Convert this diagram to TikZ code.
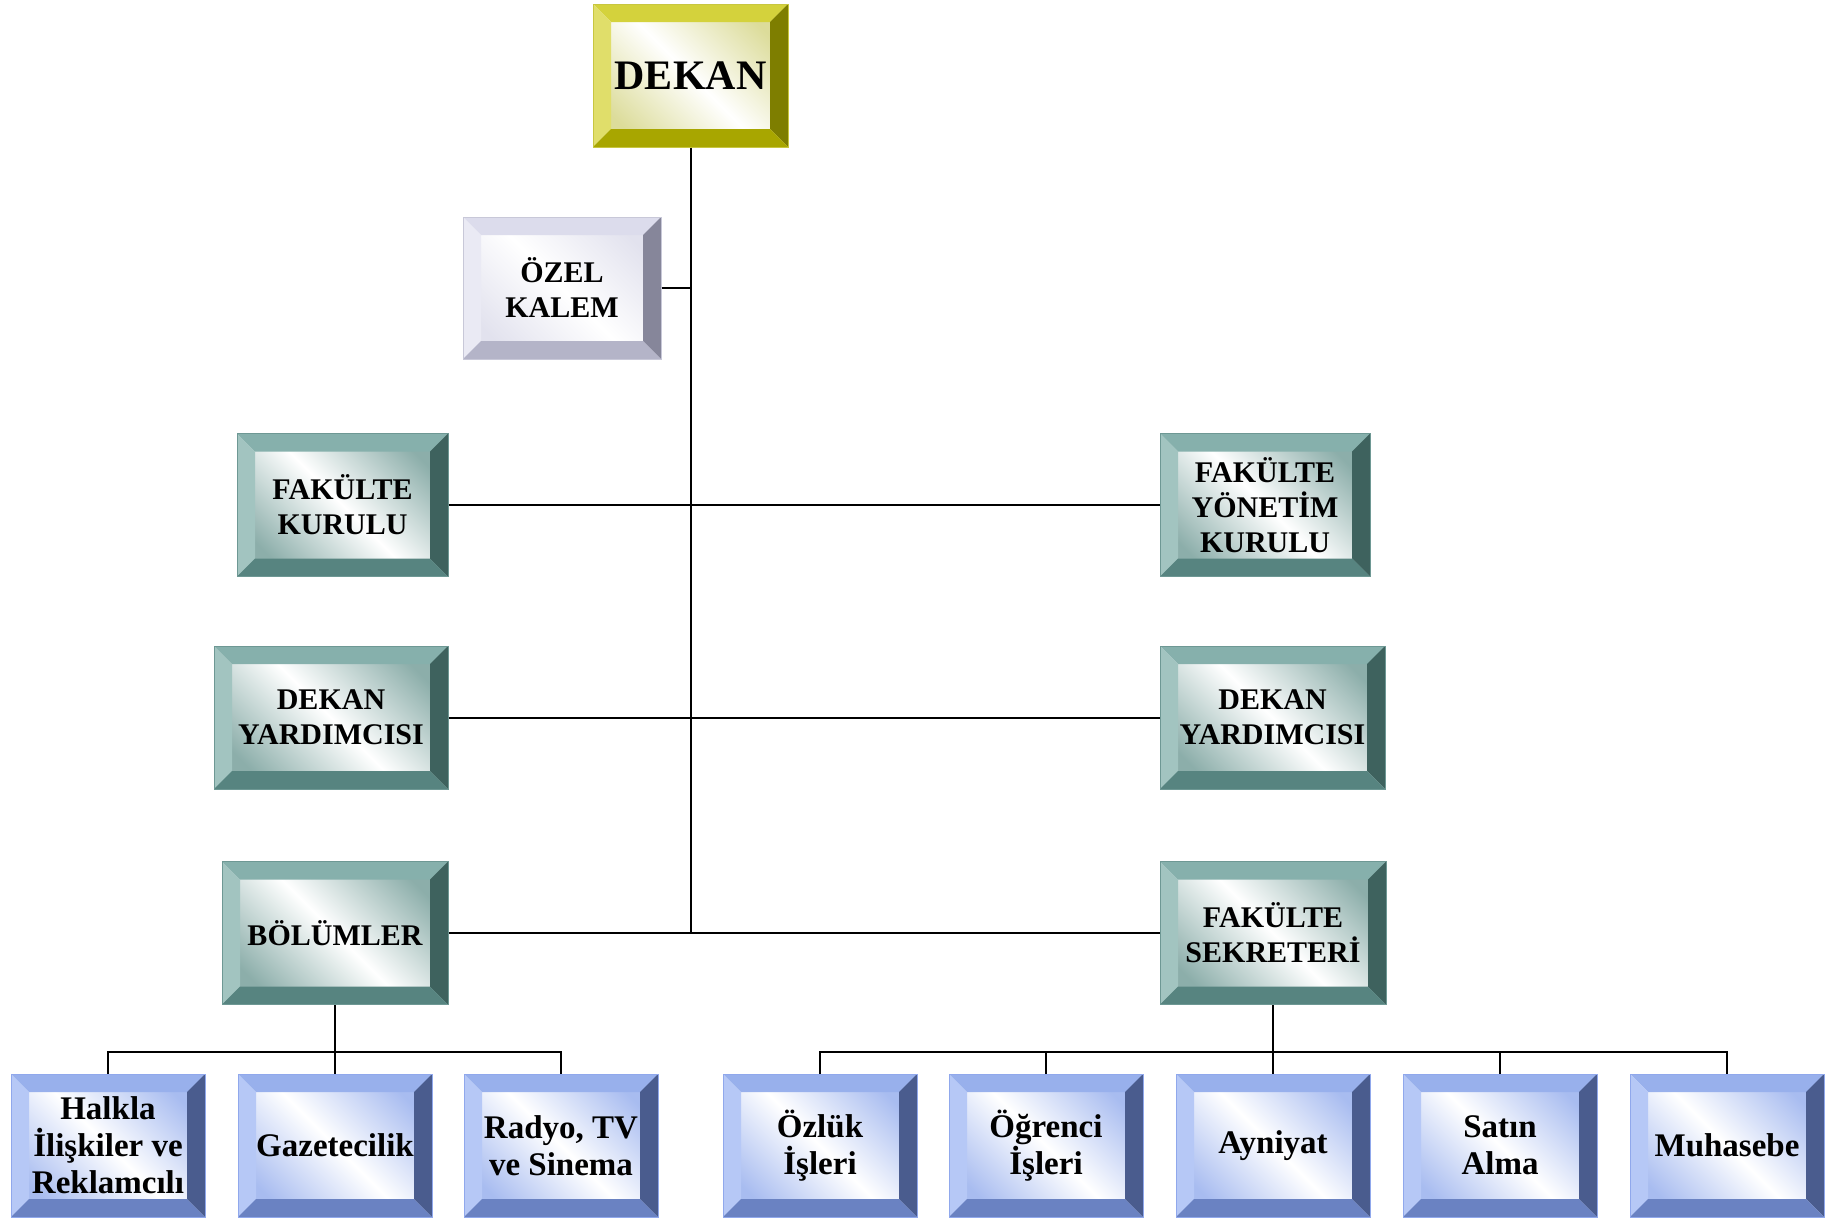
\documentclass[tikz,border=0pt]{standalone}
\usepackage{fontspec}
\setmainfont{Liberation Serif}
\usepackage{tikz}
\usetikzlibrary{calc}

\definecolor{ylwline}{HTML}{C8C640}
\definecolor{ylwshade}{HTML}{DCDC9A}
\definecolor{ylwtop}{HTML}{D4D23C}
\definecolor{ylwleft}{HTML}{E0DE6A}
\definecolor{ylwright}{HTML}{7E7E00}
\definecolor{ylwbottom}{HTML}{A8A600}
\definecolor{lavline}{HTML}{C8C8D8}
\definecolor{lavshade}{HTML}{E2E2EE}
\definecolor{lavtop}{HTML}{DCDCEC}
\definecolor{lavleft}{HTML}{EAEAF4}
\definecolor{lavright}{HTML}{86869A}
\definecolor{lavbottom}{HTML}{B4B4C8}
\definecolor{tealline}{HTML}{6E9894}
\definecolor{tealshade}{HTML}{8CAEAA}
\definecolor{tealtop}{HTML}{86B0AC}
\definecolor{tealleft}{HTML}{A2C4C0}
\definecolor{tealright}{HTML}{3E625E}
\definecolor{tealbottom}{HTML}{578480}
\definecolor{blueline}{HTML}{90A8EC}
\definecolor{blueshade}{HTML}{A8BCF0}
\definecolor{bluetop}{HTML}{98B0EC}
\definecolor{blueleft}{HTML}{B6C8F6}
\definecolor{blueright}{HTML}{4A5C8E}
\definecolor{bluebottom}{HTML}{6A82C2}

\newcommand{\bevw}{9pt}

\begin{document}
\begin{tikzpicture}[x=0.5pt,y=-0.5pt,
  bevel/.style n args={6}{draw=#1, line width=0.5pt, top color=#2, bottom color=#2, middle color=white,
    shading angle=-45, inner sep=0pt, align=center, minimum height=71.5pt,
    path picture={
      \coordinate (pnw) at (path picture bounding box.north west);
      \coordinate (pne) at (path picture bounding box.north east);
      \coordinate (psw) at (path picture bounding box.south west);
      \coordinate (pse) at (path picture bounding box.south east);
      \fill[#3] (pnw) -- (pne) -- ([shift={(-\bevw,-\bevw)}]pne) -- ([shift={(\bevw,-\bevw)}]pnw) -- cycle;
      \fill[#4] (pnw) -- ([shift={(\bevw,-\bevw)}]pnw) -- ([shift={(\bevw,\bevw)}]psw) -- (psw) -- cycle;
      \fill[#5] (pne) -- (pse) -- ([shift={(-\bevw,\bevw)}]pse) -- ([shift={(-\bevw,-\bevw)}]pne) -- cycle;
      \fill[#6] (psw) -- (pse) -- ([shift={(-\bevw,\bevw)}]pse) -- ([shift={(\bevw,\bevw)}]psw) -- cycle;
    }},
  headbox/.style={bevel={ylwline}{ylwshade}{ylwtop}{ylwleft}{ylwright}{ylwbottom},
    font=\fontsize{21}{24}\selectfont\bfseries},
  lavbox/.style={bevel={lavline}{lavshade}{lavtop}{lavleft}{lavright}{lavbottom},
    font=\fontsize{15}{17.5}\selectfont\bfseries},
  tealbox/.style={bevel={tealline}{tealshade}{tealtop}{tealleft}{tealright}{tealbottom},
    font=\fontsize{15}{17.5}\selectfont\bfseries},
  unitbox/.style={bevel={blueline}{blueshade}{bluetop}{blueleft}{blueright}{bluebottom},
    font=\fontsize{16.5}{18.5}\selectfont\bfseries, minimum width=97pt},
  link/.style={draw, line width=1pt}
  ]
  \useasboundingbox (0,0) rectangle (1841,1217);

  % top
  \node[headbox, minimum width=97.5pt] (dekan) at (690.5,75.5) {DEKAN};
  \node[lavbox, minimum width=99pt, minimum height=71pt] (ozel) at (562,288) {ÖZEL\\KALEM};

  % left and right columns
  \node[tealbox, minimum width=105.5pt] (fkurul) at (342.5,505) {FAKÜLTE\\KURULU};
  \node[tealbox, minimum width=105pt] (fyonetim) at (1265,505) {FAKÜLTE\\YÖNETİM\\KURULU};
  \node[tealbox, minimum width=117pt] (yardl) at (331,717.5) {DEKAN\\YARDIMCISI};
  \node[tealbox, minimum width=112.5pt] (yardr) at (1272.5,717.5) {DEKAN\\YARDIMCISI};
  \node[tealbox, minimum width=113pt] (bolum) at (335,933) {BÖLÜMLER};
  \node[tealbox, minimum width=113pt] (sekreter) at (1273,933) {FAKÜLTE\\SEKRETERİ};

  % bottom row
  \node[unitbox] (halkla) at (108,1145.5) {Halkla\\İlişkiler ve\\Reklamcılı};
  \node[unitbox] (gazete) at (335,1145.5) {Gazetecilik};
  \node[unitbox] (radyo) at (561,1145.5) {Radyo, TV\\ve Sinema};
  \node[unitbox] (ozluk) at (820,1145.5) {Özlük\\İşleri};
  \node[unitbox] (ogrenci) at (1046,1145.5) {Öğrenci\\İşleri};
  \node[unitbox] (ayniyat) at (1273,1145.5) {Ayniyat};
  \node[unitbox] (satin) at (1500,1145.5) {Satın\\Alma};
  \node[unitbox] (muhasebe) at (1727,1145.5) {Muhasebe};

  % connectors
  \draw[link] (dekan.south) -- (dekan.south |- bolum.east);
  \draw[link] (ozel.east) -- (ozel.east -| dekan.south);
  \draw[link] (fkurul.east) -- (fyonetim.west);
  \draw[link] (yardl.east) -- (yardr.west);
  \draw[link] (bolum.east) -- (sekreter.west);

  \draw[link] (halkla.north) -- ++(0,-22) -| (radyo.north);
  \draw[link] (bolum.south) -- (gazete.north);
  \draw[link] (ozluk.north) -- ++(0,-22) -| (muhasebe.north);
  \draw[link] (sekreter.south) -- (ayniyat.north);
  \foreach \n in {ogrenci,satin}
    \draw[link] (\n.north) -- ++(0,-22);
\end{tikzpicture}
\end{document}
